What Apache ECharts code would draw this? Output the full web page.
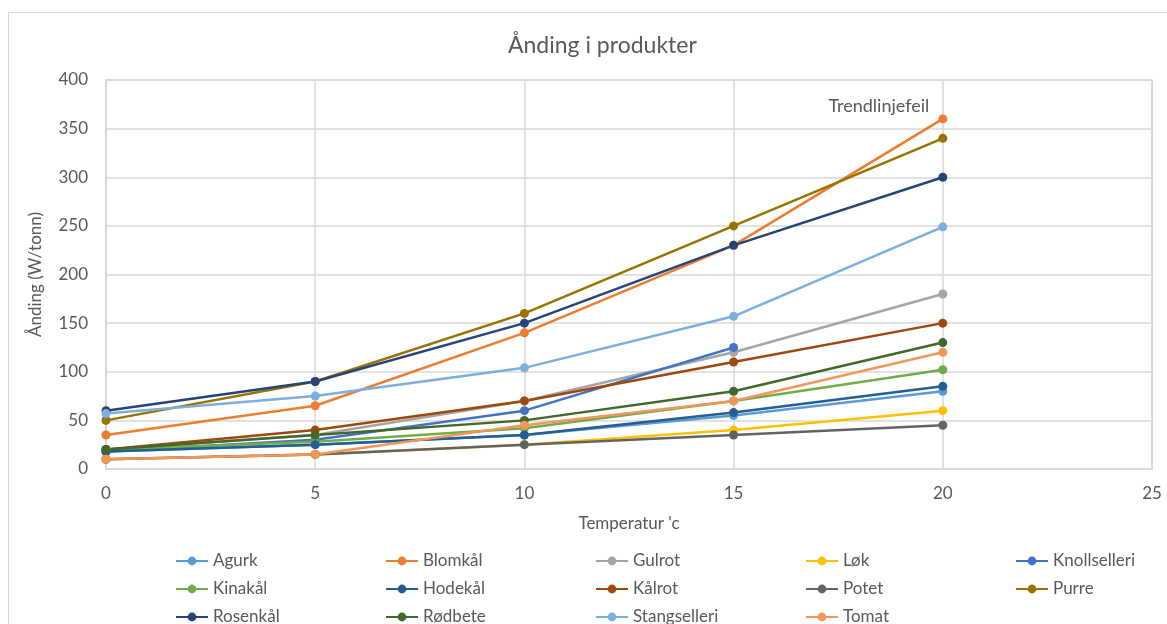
<!DOCTYPE html>
<html>
<head>
<meta charset="utf-8">
<script src="https://cdn.jsdelivr.net/npm/echarts@6/dist/echarts.min.js"></script>
<style>
  html, body { margin: 0; padding: 0; background: #fff; }
  #chart { width: 1167px; height: 624px; }
</style>
</head>
<body>
<div id="chart"></div>
<script>
const temps = [0, 5, 10, 15, 20]

// values (W/tonn)
const agurk = [18, 25, 35, 55, 80]
const blomkal = [35, 65, 140, 230, 360]
const gulrot = [20, 35, 70, 120, 180]
const lok = [10, 15, 25, 40, 60]
const knollselleri = [18, 30, 60, 125, null]
const kinakal = [20, 28, 42, 70, 102]
const hodekal = [18, 25, 35, 58, 85]
const kalrot = [20, 40, 70, 110, 150]
const potet = [10, 15, 25, 35, 45]
const purre = [50, 90, 160, 250, 340]
const rosenkal = [60, 90, 150, 230, 300]
const rodbete = [20, 35, 50, 80, 130]
const stangselleri = [57, 75, 104, 157, 249]
const tomat = [10, 15, 45, 70, 120]

const names = ['Agurk', 'Blomkål', 'Gulrot', 'Løk', 'Knollselleri', 'Kinakål', 'Hodekål',
  'Kålrot', 'Potet', 'Purre', 'Rosenkål', 'Rødbete', 'Stangselleri', 'Tomat']
const values = [agurk, blomkal, gulrot, lok, knollselleri, kinakal, hodekal,
  kalrot, potet, purre, rosenkal, rodbete, stangselleri, tomat]
const colors = ['#5B9BD5', '#ED7D31', '#A5A5A5', '#FFC000', '#4472C4', '#70AD47', '#255E91',
  '#9E480E', '#636363', '#997300', '#264478', '#43682B', '#7CAFDD', '#F1975A']

const font = 'Lato, "Open Sans", sans-serif'
const textColor = '#595959'

const series = names.map((name, i) => {
  const s = {
    name: name,
    type: 'line',
    data: values[i].map((v, j) => [temps[j], v]),
    symbol: 'circle',
    symbolSize: 9,
    lineStyle: { width: 2.5, color: colors[i] },
    itemStyle: { color: colors[i] },
    emphasis: { disabled: true }
  }
  if (name === 'Blomkål') {
    // excel data label on the last point
    s.label = {
      show: true,
      position: 'left',
      offset: [-4, -13],
      formatter: (p) => p.dataIndex === 4 ? 'Trendlinjefeil' : '',
      color: textColor,
      fontSize: 18,
      fontFamily: font
    }
  }
  return s
})

// five legend columns, three rows like the excel legend
const columnLeft = [175, 385, 595, 805, 1015]
const legends = columnLeft.map((left, c) => ({
  data: names.filter((n, k) => k % 5 === c),
  left: left,
  top: 552,
  height: 120,
  padding: 0,
  orient: 'vertical',
  itemWidth: 32,
  itemHeight: 11,
  itemGap: 10,
  textStyle: { color: textColor, fontSize: 17, lineHeight: 18, fontFamily: font }
}))

const chart = echarts.init(document.getElementById('chart'))
chart.setOption({
  animation: false,
  color: colors,
  title: {
    text: 'Ånding i produkter',
    left: 503,
    top: 29,
    textStyle: { color: textColor, fontSize: 23, fontWeight: 'normal', fontFamily: font }
  },
  graphic: [{
    type: 'rect',
    shape: { x: 8.5, y: 12.5, width: 1300, height: 800 },
    style: { fill: null, stroke: '#D9D9D9', lineWidth: 1 },
    silent: true
  }],
  legend: legends,
  grid: {
    left: 106, right: 15, top: 80, bottom: 155,
    show: true, borderColor: '#D9D9D9', borderWidth: 1.5
  },
  xAxis: {
    type: 'value',
    min: 0, max: 25, interval: 5,
    name: "Temperatur 'c",
    nameLocation: 'middle',
    nameGap: 46,
    nameTextStyle: { color: textColor, fontSize: 17, fontFamily: font },
    axisLine: { show: true, lineStyle: { color: '#D9D9D9', width: 1.5 } },
    axisTick: { show: false },
    axisLabel: { color: textColor, fontSize: 17, margin: 16, fontFamily: font },
    splitLine: { show: true, lineStyle: { color: '#D9D9D9', width: 1.5 } }
  },
  yAxis: {
    type: 'value',
    min: 0, max: 400, interval: 50,
    name: 'Ånding (W/tonn)',
    nameLocation: 'middle',
    nameGap: 62,
    nameTextStyle: { color: textColor, fontSize: 17, fontFamily: font },
    axisLine: { show: true, lineStyle: { color: '#D9D9D9', width: 1.5 } },
    axisTick: { show: false },
    axisLabel: { color: textColor, fontSize: 17, margin: 18, fontFamily: font },
    splitLine: { show: true, lineStyle: { color: '#D9D9D9', width: 1.5 } }
  },
  series: series
})
</script>
</body>
</html>
